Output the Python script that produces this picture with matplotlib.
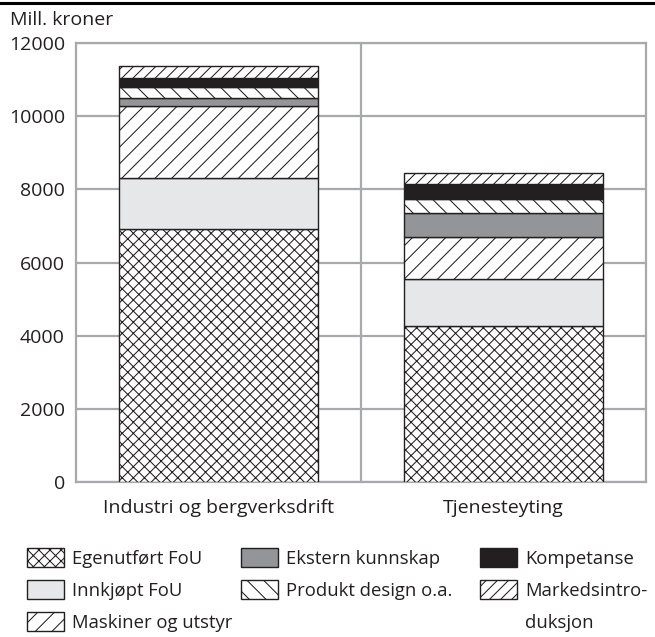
import matplotlib
matplotlib.use("Agg")
import matplotlib.pyplot as plt
from matplotlib.patches import Patch
import numpy as np

plt.rcParams['font.family'] = ['Open Sans', 'DejaVu Sans']
plt.rcParams['hatch.linewidth'] = 0.75
plt.rcParams['hatch.color'] = '#231f20'

categories = ["Industri og bergverksdrift", "Tjenesteyting"]

# mill. kroner, bottom to top
egenutfort = [6910, 4270]
innkjopt = [1390, 1275]
maskiner = [1975, 1155]
ekstern = [210, 665]
produkt = [315, 380]
kompetanse = [245, 390]
markeds = [330, 310]

series = [
    ("Egenutført FoU", egenutfort, "white", "xxx"),
    ("Innkjøpt FoU", innkjopt, "#e6e7e8", None),
    ("Maskiner og utstyr", maskiner, "white", "//"),
    ("Ekstern kunnskap", ekstern, "#939598", None),
    ("Produkt design o.a.", produkt, "white", "\\\\"),
    ("Kompetanse", kompetanse, "#231f20", None),
    ("Markedsintro-", markeds, "white", "///"),
]

grid_col = "#a7a9ac"
txt_col = "#231f20"
fs = 14
leg_fs = 13.3

fig = plt.figure(figsize=(6.55, 6.37), dpi=100)
ax = fig.add_axes([76 / 655, 1 - 482 / 637, 570 / 655, 439 / 637])

x = np.arange(len(categories))
bottom = np.zeros(len(categories))
handles = []
for label, vals, col, hatch in series:
    b = ax.bar(x, vals, 0.7, bottom=bottom, color=col, hatch=hatch,
               edgecolor=txt_col, linewidth=1.0, label=label, zorder=3)
    handles.append(b)
    bottom += np.array(vals)

ax.set_xlim(-0.5, 1.5)
ax.set_ylim(0, 12000)
ax.set_yticks(np.arange(0, 12001, 2000))
ax.set_xticks(x)
ax.set_xticklabels(categories)
ax.tick_params(length=0, labelsize=fs, colors=txt_col)
ax.tick_params(axis='y', pad=8)
ax.tick_params(axis='x', pad=12)

ax.yaxis.grid(True, color=grid_col, linewidth=1.6)
ax.axvline(0.5, color=grid_col, linewidth=1.6, zorder=1)
ax.set_axisbelow(True)
for s in ax.spines.values():
    s.set_color(grid_col)
    s.set_linewidth(1.6)

fig.text(10 / 655, 1 - 20 / 637, "Mill. kroner", fontsize=fs,
         color=txt_col, va="center", ha="left")
fig.add_artist(plt.Line2D([0, 1], [1 - 3 / 637, 1 - 3 / 637],
                          color="black", linewidth=2.2))

# legend: three columns placed by hand
labels = [s[0] for s in series]
blank = Patch(facecolor="none", edgecolor="none")
columns = [
    (handles[0:3], labels[0:3], 27),
    (handles[3:5], labels[3:5], 241),
    (handles[5:7] + [blank], labels[5:7] + ["duksjon"], 480),
]
for h, l, x0 in columns:
    fig.legend(h, l, loc="upper left",
               bbox_to_anchor=(x0 / 655, 1 - 548 / 637),
               frameon=False, fontsize=leg_fs, handlelength=2.0,
               handleheight=1.18, handletextpad=0.45,
               labelspacing=0.68, borderaxespad=0, borderpad=0,
               labelcolor=txt_col)

fig.savefig("out.png", dpi=100)
